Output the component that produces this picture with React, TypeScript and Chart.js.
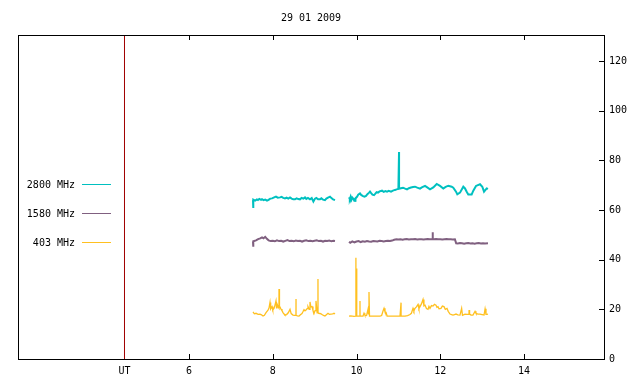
import { useEffect, useRef } from "react";
import { Chart, registerables } from "chart.js";
Chart.register(...registerables);

const TITLE = "29 01 2009";
const X_MIN = 1.916;
const X_MAX = 15.91;
const Y_MIN = 0;
const Y_MAX = 130.5;
const UT_POS = 4.459;
const X_TICKS = [6, 8, 10, 12, 14];
const Y_TICKS = [0, 20, 40, 60, 80, 100, 120];
const SERIES_LABELS = ["2800 MHz", "1580 MHz", "403 MHz"];
const SERIES_COLORS = ["#00c0c0", "#806080", "#ffc020"];
const UT_COLOR = "#a00000";
const GAP_TIME = 9.65;

// 2800 MHz
const c1Times = [7.528, 7.53, 7.54, 7.58, 7.62, 7.647, 7.68, 7.72, 7.743, 7.78, 7.82, 7.862, 7.9, 7.94, 7.982, 8.02, 8.077, 8.12, 8.173, 8.21, 8.25, 8.292, 8.33, 8.37, 8.412, 8.45, 8.49, 8.531, 8.57, 8.61, 8.65, 8.69, 8.73, 8.77, 8.8, 8.84, 8.889, 8.93, 8.97, 9.009, 9.04, 9.08, 9.128, 9.16, 9.2, 9.247, 9.28, 9.319, 9.367, 9.4, 9.44, 9.486];
const c1Values = [64.0, 60.8, 64.2, 63.8, 64.3, 64.0, 64.5, 64.1, 64.4, 64.0, 64.2, 63.8, 64.1, 64.6, 64.7, 65.0, 65.4, 65.0, 65.1, 65.3, 64.9, 64.7, 65.0, 64.6, 65.1, 64.6, 64.3, 64.3, 64.7, 64.4, 64.3, 64.9, 64.6, 65.1, 64.5, 64.9, 64.3, 64.8, 63.4, 64.6, 64.9, 64.3, 64.3, 64.7, 64.2, 64.0, 64.6, 65.0, 65.4, 64.8, 64.3, 64.0];
const c2Times = [9.821, 9.84, 9.86, 9.88, 9.9, 9.92, 9.94, 9.964, 9.97, 9.98, 10.01, 10.04, 10.083, 10.11, 10.155, 10.19, 10.227, 10.26, 10.3, 10.322, 10.35, 10.38, 10.418, 10.45, 10.48, 10.513, 10.55, 10.609, 10.65, 10.69, 10.728, 10.77, 10.824, 10.87, 10.919, 10.96, 11.0, 11.014, 11.015, 11.016, 11.06, 11.11, 11.16, 11.206, 11.25, 11.301, 11.35, 11.397, 11.45, 11.516, 11.56, 11.636, 11.68, 11.755, 11.834, 11.915, 11.994, 12.073, 12.13, 12.192, 12.273, 12.311, 12.376, 12.407, 12.471, 12.55, 12.591, 12.631, 12.669, 12.75, 12.789, 12.853, 12.949, 13.004, 13.045, 13.109, 13.14];
const c2Values = [65.1, 64.4, 65.4, 64.2, 65.0, 64.6, 64.0, 64.5, 63.3, 64.6, 65.3, 66.2, 66.7, 66.1, 65.6, 65.4, 65.7, 66.4, 67.0, 67.4, 66.8, 66.2, 66.0, 66.6, 67.2, 67.0, 67.5, 67.8, 67.3, 67.6, 67.4, 67.7, 67.4, 67.8, 68.1, 68.3, 68.6, 68.6, 83.4, 68.6, 68.8, 69.0, 68.6, 68.3, 68.8, 69.1, 69.3, 69.4, 69.0, 68.6, 69.1, 69.7, 69.2, 68.3, 69.1, 70.5, 69.7, 68.7, 69.3, 69.8, 69.4, 69.0, 67.4, 66.3, 67.0, 69.4, 68.7, 67.4, 66.3, 66.3, 67.8, 69.7, 70.4, 69.4, 67.4, 68.7, 68.5];

// 1580 MHz
const p1Times = [7.528, 7.53, 7.54, 7.6, 7.65, 7.7, 7.743, 7.78, 7.82, 7.86, 7.9, 7.95, 8.0, 8.05, 8.1, 8.15, 8.2, 8.25, 8.3, 8.35, 8.4, 8.45, 8.5, 8.55, 8.6, 8.65, 8.7, 8.75, 8.8, 8.85, 8.9, 8.95, 9.0, 9.05, 9.1, 9.15, 9.2, 9.25, 9.3, 9.35, 9.4, 9.45, 9.486];
const p1Values = [47.2, 45.2, 47.4, 47.8, 48.3, 48.6, 49.0, 48.6, 49.2, 48.4, 47.8, 47.5, 47.6, 47.4, 47.8, 47.5, 47.6, 47.3, 47.6, 47.9, 47.5, 47.6, 47.4, 47.7, 47.5, 47.6, 47.3, 47.6, 47.8, 47.5, 47.6, 47.4, 47.6, 47.8, 47.5, 47.6, 47.3, 47.6, 47.5, 47.7, 47.4, 47.6, 47.5];
const p2Times = [9.821, 9.85, 9.9, 9.95, 10.0, 10.05, 10.1, 10.15, 10.2, 10.25, 10.3, 10.35, 10.4, 10.45, 10.5, 10.55, 10.6, 10.65, 10.7, 10.75, 10.8, 10.85, 10.9, 10.95, 11.0, 11.05, 11.1, 11.15, 11.2, 11.25, 11.3, 11.35, 11.4, 11.45, 11.5, 11.55, 11.6, 11.65, 11.7, 11.75, 11.8, 11.819, 11.82, 11.821, 11.85, 11.9, 11.95, 12.0, 12.05, 12.1, 12.15, 12.2, 12.25, 12.3, 12.35, 12.38, 12.42, 12.47, 12.52, 12.57, 12.62, 12.67, 12.72, 12.77, 12.82, 12.87, 12.92, 12.97, 13.02, 13.07, 13.14];
const p2Values = [47.2, 46.8, 47.4, 47.0, 47.3, 47.5, 47.1, 47.4, 47.2, 47.5, 47.3, 47.2, 47.5, 47.4, 47.3, 47.6, 47.5, 47.3, 47.5, 47.6, 47.5, 47.7, 48.0, 48.2, 48.1, 48.2, 48.0, 48.2, 48.3, 48.1, 48.2, 48.2, 48.3, 48.1, 48.2, 48.2, 48.1, 48.2, 48.3, 48.2, 48.2, 48.2, 51.1, 48.2, 48.2, 48.3, 48.2, 48.2, 48.1, 48.2, 48.3, 48.2, 48.2, 48.1, 48.2, 46.6, 46.5, 46.7, 46.6, 46.4, 46.6, 46.7, 46.5, 46.6, 46.4, 46.6, 46.7, 46.5, 46.6, 46.5, 46.6];

// 403 MHz
const y1Times = [7.528, 7.56, 7.6, 7.65, 7.695, 7.73, 7.767, 7.8, 7.839, 7.886, 7.91, 7.934, 7.95, 7.982, 8.0, 8.029, 8.05, 8.077, 8.09, 8.101, 8.13, 8.148, 8.149, 8.15, 8.17, 8.197, 8.22, 8.244, 8.27, 8.292, 8.33, 8.37, 8.412, 8.44, 8.483, 8.52, 8.554, 8.555, 8.556, 8.59, 8.627, 8.66, 8.698, 8.72, 8.746, 8.77, 8.794, 8.82, 8.841, 8.87, 8.889, 8.91, 8.937, 8.96, 8.985, 9.01, 9.032, 9.06, 9.079, 9.08, 9.081, 9.1, 9.128, 9.15, 9.176, 9.21, 9.247, 9.28, 9.319, 9.35, 9.391, 9.43, 9.462, 9.486];
const y1Values = [19.0, 18.2, 18.4, 18.0, 18.1, 17.8, 17.3, 17.6, 18.7, 19.7, 20.5, 22.8, 20.2, 21.1, 19.8, 20.4, 21.5, 23.4, 20.6, 22.2, 21.0, 20.5, 28.2, 20.5, 21.3, 20.1, 19.5, 18.7, 18.1, 17.7, 17.9, 18.6, 20.0, 18.3, 17.7, 17.6, 17.6, 24.2, 17.6, 17.4, 17.3, 17.8, 18.3, 19.0, 19.9, 19.4, 19.7, 20.3, 21.1, 20.0, 23.0, 21.0, 21.1, 19.6, 18.3, 19.5, 23.4, 18.6, 18.6, 32.2, 18.6, 18.4, 18.4, 18.2, 17.9, 17.6, 17.3, 17.8, 18.4, 18.0, 18.1, 18.2, 18.4, 18.1];
const y2Times = [9.821, 9.86, 9.9, 9.94, 9.984, 9.985, 9.986, 10.004, 10.005, 10.006, 10.04, 10.082, 10.083, 10.084, 10.12, 10.155, 10.179, 10.2, 10.24, 10.274, 10.286, 10.298, 10.31, 10.37, 10.45, 10.561, 10.6, 10.633, 10.657, 10.68, 10.704, 10.73, 10.8, 10.9, 11.039, 11.062, 11.063, 11.064, 11.09, 11.158, 11.22, 11.277, 11.31, 11.349, 11.37, 11.397, 11.43, 11.469, 11.49, 11.516, 11.55, 11.588, 11.61, 11.636, 11.67, 11.707, 11.73, 11.755, 11.79, 11.827, 11.86, 11.898, 11.92, 11.946, 11.97, 12.017, 12.05, 12.089, 12.12, 12.161, 12.19, 12.232, 12.27, 12.304, 12.34, 12.376, 12.42, 12.471, 12.51, 12.53, 12.591, 12.64, 12.686, 12.688, 12.7, 12.734, 12.78, 12.83, 12.853, 12.9, 12.949, 13.0, 13.045, 13.07, 13.092, 13.11, 13.14];
const y2Values = [17.3, 17.4, 17.3, 17.2, 17.3, 40.8, 17.3, 17.3, 36.5, 17.3, 17.3, 17.3, 23.4, 17.3, 17.3, 17.3, 18.4, 17.6, 17.5, 20.0, 18.2, 27.0, 17.3, 17.3, 17.3, 17.3, 17.5, 19.3, 20.4, 19.0, 18.8, 17.3, 17.3, 17.3, 17.3, 17.3, 22.7, 17.3, 17.3, 17.3, 17.5, 17.9, 18.4, 20.4, 19.3, 20.4, 21.0, 22.0, 20.3, 21.1, 22.2, 24.0, 21.4, 21.7, 20.3, 20.0, 21.2, 20.4, 21.5, 21.3, 22.0, 21.7, 20.8, 21.1, 20.2, 20.4, 21.3, 21.1, 20.0, 20.4, 19.2, 18.1, 17.9, 17.7, 17.9, 18.1, 17.8, 17.7, 20.4, 17.6, 18.1, 18.0, 18.1, 19.7, 18.1, 17.7, 17.7, 19.2, 18.4, 18.1, 18.1, 17.9, 17.7, 20.2, 18.0, 18.0, 18.1];

const MONO = "'DejaVu Sans Mono', monospace";

function zip(t: number[], v: number[]) {
  return t.map((x, i) => ({ x, y: v[i] }));
}
function series(t1: number[], v1: number[], t2: number[], v2: number[]) {
  return [...zip(t1, v1), { x: GAP_TIME, y: null as any }, ...zip(t2, v2)];
}

const framePlugin = {
  id: "frame",
  afterDraw(chart: any) {
    const { ctx, chartArea, scales } = chart;
    const { left, right, top, bottom } = chartArea;
    ctx.save();
    ctx.strokeStyle = "#000";
    ctx.lineWidth = 1;
    ctx.strokeRect(left + 0.5, top + 0.5, right - left, bottom - top);
    ctx.beginPath();
    const tl = 5;
    for (const v of X_TICKS) {
      const px = Math.round(scales.x.getPixelForValue(v)) + 0.5;
      ctx.moveTo(px, bottom);
      ctx.lineTo(px, bottom - tl);
      ctx.moveTo(px, top);
      ctx.lineTo(px, top + tl);
    }
    for (const v of Y_TICKS) {
      const py = Math.round(scales.y.getPixelForValue(v)) + 0.5;
      ctx.moveTo(right, py);
      ctx.lineTo(right - tl, py);
    }
    ctx.stroke();
    // legend
    ctx.font = "10px " + MONO;
    ctx.textAlign = "right";
    ctx.textBaseline = "middle";
    const ys = [184.5, 213.5, 242.5];
    SERIES_LABELS.forEach((lab, i) => {
      ctx.fillStyle = "#000";
      ctx.fillText(lab, 75, ys[i] + 1);
      ctx.strokeStyle = SERIES_COLORS[i];
      ctx.beginPath();
      ctx.moveTo(82, ys[i]);
      ctx.lineTo(111, ys[i]);
      ctx.stroke();
    });
    ctx.restore();
  },
};

export default function App() {
  const ref = useRef<HTMLCanvasElement | null>(null);
  useEffect(() => {
    if (!ref.current) return;
    const chart = new Chart(ref.current, {
      type: "line",
      data: {
        datasets: [
          {
            label: "UT",
            data: [{ x: UT_POS, y: Y_MIN }, { x: UT_POS, y: Y_MAX }],
            borderColor: UT_COLOR,
            borderWidth: 1,
            pointRadius: 0,
          },
          {
            label: SERIES_LABELS[0],
            data: series(c1Times, c1Values, c2Times, c2Values),
            borderColor: SERIES_COLORS[0],
            borderWidth: 2,
            pointRadius: 0,
            spanGaps: false,
          },
          {
            label: SERIES_LABELS[1],
            data: series(p1Times, p1Values, p2Times, p2Values),
            borderColor: SERIES_COLORS[1],
            borderWidth: 2,
            pointRadius: 0,
            spanGaps: false,
          },
          {
            label: SERIES_LABELS[2],
            data: series(y1Times, y1Values, y2Times, y2Values),
            borderColor: SERIES_COLORS[2],
            borderWidth: 1.3,
            pointRadius: 0,
            spanGaps: false,
          },
        ] as any,
      },
      options: {
        animation: false,
        responsive: false,
        maintainAspectRatio: false,
        parsing: false as any,
        layout: { padding: { left: 18, top: 0, right: 0, bottom: 0 } },
        plugins: {
          legend: { display: false },
          tooltip: { enabled: false },
          title: {
            display: true,
            text: TITLE,
            fullSize: false,
            color: "#000",
            font: { family: MONO, size: 10, weight: "normal" as any, lineHeight: 1.2 },
            padding: { top: 12, bottom: 11 },
          },
        },
        scales: {
          x: {
            type: "linear",
            min: X_MIN,
            max: X_MAX,
            grid: { display: false, tickLength: 0 },
            border: { display: false },
            afterBuildTicks: (s: any) => {
              s.ticks = [UT_POS, ...X_TICKS].map((v) => ({ value: v }));
            },
            afterFit: (s: any) => {
              s.height = 25;
            },
            ticks: {
              autoSkip: false,
              maxRotation: 0,
              padding: 6,
              color: "#000",
              font: { family: MONO, size: 10 },
              callback: (v: any) => (v === UT_POS ? "UT" : String(v)),
            },
          },
          y: {
            type: "linear",
            position: "right",
            min: Y_MIN,
            max: Y_MAX,
            grid: { display: false, tickLength: 0 },
            border: { display: false },
            afterBuildTicks: (s: any) => {
              s.ticks = Y_TICKS.map((v) => ({ value: v }));
            },
            afterFit: (s: any) => {
              s.width = 36;
            },
            ticks: {
              padding: 5,
              color: "#000",
              font: { family: MONO, size: 10 },
            },
          },
        },
      },
      plugins: [framePlugin],
    });
    return () => chart.destroy();
  }, []);
  return (
    <div style={{ position: "fixed", left: 0, top: 0, width: 640, height: 384, background: "#fff" }}>
      <canvas ref={ref} width={640} height={384} style={{ width: 640, height: 384, display: "block" }} />
    </div>
  );
}
